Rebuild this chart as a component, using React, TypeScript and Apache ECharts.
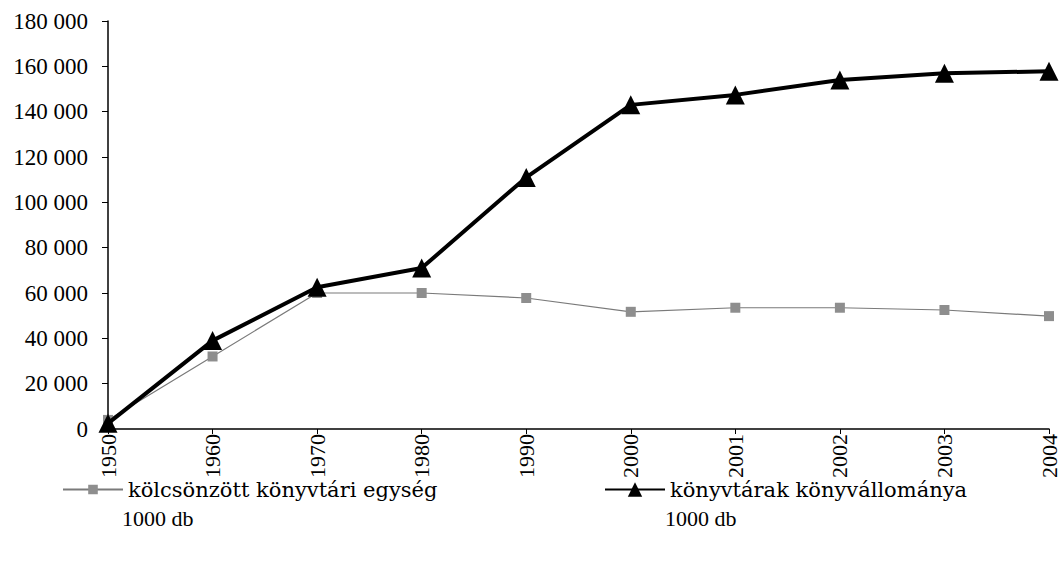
import React, { useEffect, useRef } from "react";
import * as echarts from "echarts";

const years = ["1950", "1960", "1970", "1980", "1990", "2000", "2001", "2002", "2003", "2004"];
const kolcsonzott = [4000, 32000, 60000, 60000, 57800, 51700, 53500, 53500, 52500, 49800];
const allomany = [2500, 39000, 62500, 71000, 111000, 143000, 147400, 154000, 157000, 157800];
const seriesNames = ["kölcsönzött könyvtári egység", "könyvtárak könyvállománya"];
const unitLabel = "1000 db";

const fmt = (v: number) => {
  if (v === 0) return "0";
  const s = String(v);
  return s.slice(0, s.length - 3) + " " + s.slice(s.length - 3);
};

export default function App() {
  const ref = useRef<HTMLDivElement>(null);
  useEffect(() => {
    if (!ref.current) return;
    const chart = echarts.init(ref.current, undefined, { renderer: "svg" });
    const font = "Liberation Serif";
    const legendFont = "DejaVu Serif";
    chart.setOption({
      animation: false,
      backgroundColor: "#fff",
      grid: { left: 108, right: 7, top: 21, bottom: 153, containLabel: false },
      xAxis: {
        type: "category",
        data: years,
        boundaryGap: false,
        axisLine: { lineStyle: { color: "#000", width: 1.5 } },
        axisTick: { show: true, length: 5, lineStyle: { color: "#000" } },
        axisLabel: { rotate: 90, color: "#000", fontFamily: font, fontSize: 22, margin: 5 },
        splitLine: { show: false },
      },
      yAxis: {
        type: "value",
        min: 0,
        max: 180000,
        interval: 20000,
        axisLine: { show: true, lineStyle: { color: "#000", width: 1.5 } },
        axisTick: { show: true, length: 6, lineStyle: { color: "#000" } },
        axisLabel: { color: "#000", fontFamily: font, fontSize: 23, margin: 20, formatter: fmt },
        splitLine: { show: false },
      },
      legend: [
        {
          data: [seriesNames[0]],
          left: 57,
          top: 474,
          itemWidth: 60,
          itemHeight: 12,
          itemGap: 4,
          textStyle: { color: "#000", fontFamily: legendFont, fontSize: 21 },
        },
        {
          data: [seriesNames[1]],
          left: 599,
          top: 474,
          itemWidth: 60,
          itemHeight: 18,
          itemGap: 4,
          textStyle: { color: "#000", fontFamily: legendFont, fontSize: 21 },
        },
      ],
      graphic: [
        { type: "text", left: 122, top: 507, style: { text: unitLabel, fill: "#000", fontFamily: font, fontSize: 22 } },
        { type: "text", left: 665, top: 507, style: { text: unitLabel, fill: "#000", fontFamily: font, fontSize: 22 } },
      ],
      series: [
        {
          name: seriesNames[0],
          type: "line",
          data: kolcsonzott,
          symbol: "rect",
          symbolSize: 10,
          lineStyle: { color: "#7a7a7a", width: 1.2 },
          itemStyle: { color: "#8e8e8e" },
          z: 2,
        },
        {
          name: seriesNames[1],
          type: "line",
          data: allomany,
          symbol: "triangle",
          symbolSize: 19,
          lineStyle: { color: "#000", width: 4 },
          itemStyle: { color: "#000" },
          z: 3,
        },
      ],
    });
    return () => chart.dispose();
  }, []);
  return <div ref={ref} style={{ width: 1060, height: 582, position: "absolute", left: 0, top: 0 }} />;
}
